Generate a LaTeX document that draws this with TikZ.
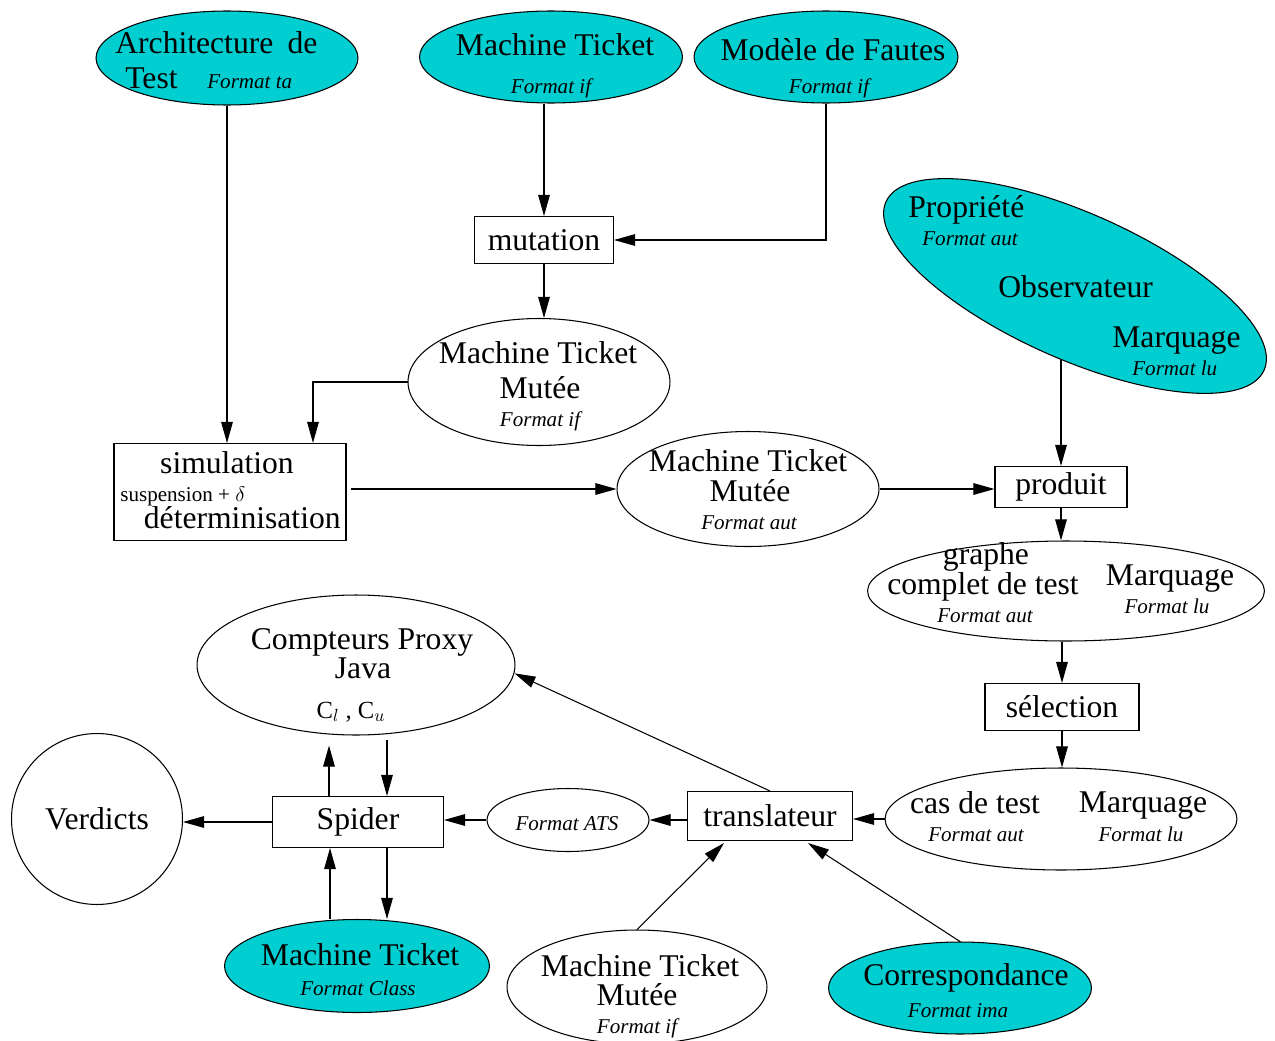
\documentclass[tikz,border=0pt]{standalone}
\usepackage{fontspec}
\setmainfont{Liberation Serif}
\usetikzlibrary{shapes.geometric, arrows.meta, calc, backgrounds}
\definecolor{figcyan}{RGB}{0,206,209}

\begin{document}
\begin{tikzpicture}[
    x=0.02cm, y=-0.02cm,
    ell/.style={ellipse, draw, line width=0.6pt, inner sep=0pt},
    cyanell/.style={ell, fill=figcyan},
    box/.style={rectangle, draw, line width=0.6pt, inner sep=0pt, font=\fontsize{18}{20}\selectfont},
    lbl/.style={inner sep=0pt, anchor=base, font=\fontsize{18}{20}\selectfont},
    fmt/.style={inner sep=0pt, anchor=base, font=\fontsize{12}{14}\selectfont\itshape},
    flow/.style={-{Triangle[length=12pt, width=6.6pt]}, line width=0.6pt}
]
    \useasboundingbox (0,0) rectangle (1275,1041);

    % Shapes
    \node[cyanell, minimum width=5.24cm, minimum height=1.88cm] (archi) at (227,58) {};
    \node[cyanell, minimum width=5.26cm, minimum height=1.84cm] (mtTop) at (551,57) {};
    \node[cyanell, minimum width=5.28cm, minimum height=1.84cm] (modele) at (826,57) {};
    \node[box, minimum width=2.78cm, minimum height=0.94cm] (mutation) at (544,240) {mutation};
    \node[ell, minimum width=5.24cm, minimum height=2.54cm] (mtm1) at (539,382) {};
    \node[box, minimum width=4.64cm, minimum height=1.94cm] (simul) at (230,492) {};
    \node[ell, minimum width=5.24cm, minimum height=2.30cm] (mtm2) at (748,489) {};
    \node[cyanell, rotate=-24, minimum width=8.28cm, minimum height=2.92cm] (obs) at (1075,286) {};
    \node[box, minimum width=2.64cm, minimum height=0.82cm] (produit) at (1061,487) {produit};
    \node[ell, minimum width=7.94cm, minimum height=2.00cm] (graphe) at (1066,591) {};
    \node[box, minimum width=3.08cm, minimum height=0.94cm] (selection) at (1062,707) {sélection};
    \node[ell, minimum width=7.04cm, minimum height=2.04cm] (cas) at (1061,819) {};
    \node[box, minimum width=3.30cm, minimum height=0.98cm] (trans) at (770,816) {translateur};
    \node[ell, minimum width=3.24cm, minimum height=1.26cm] (ats) at (568,820) {};
    \node[box, minimum width=3.42cm, minimum height=1.02cm] (spider) at (358,822) {Spider};
    \node[ell, circle, minimum size=3.42cm, font=\fontsize{18}{20}\selectfont] (verdicts) at (97,819) {Verdicts};
    \node[ell, minimum width=6.36cm, minimum height=2.80cm] (compt) at (356,665) {};
    \node[cyanell, minimum width=5.30cm, minimum height=1.86cm] (mtClass) at (357,966) {};
    \node[ell, minimum width=5.20cm, minimum height=2.28cm] (mtm3) at (637,987) {};
    \node[cyanell, minimum width=5.26cm, minimum height=1.84cm] (corr) at (960,988) {};

    % Texts
    \node[lbl, anchor=base west] (archi-t1) at (115,53) {Architecture\hspace{0.45em}de};
    \node[lbl, anchor=base west] (archi-t2) at (125,88) {Test};
    \node[fmt, anchor=base west] (archi-t3) at (207,88) {Format ta};
    \node[lbl] (mtTop-t1) at (555,55) {Machine Ticket};
    \node[fmt] (mtTop-t2) at (551,93) {Format if};
    \node[lbl] (modele-t1) at (833,60) {Modèle de Fautes};
    \node[fmt] (modele-t2) at (829,93) {Format if};
    \node[lbl] (mtm1-t1) at (538,363) {Machine Ticket};
    \node[lbl] (mtm1-t2) at (540,398) {Mutée};
    \node[fmt] (mtm1-t3) at (540,426) {Format if};
    \node[lbl] (simul-t1) at (227,473) {simulation};
    \node[fmt, font=\fontsize{12}{14}\selectfont, anchor=base west] (simul-t2) at (120,501) {suspension + $\delta$};
    \node[lbl, anchor=base east] (simul-t3) at (341,528) {déterminisation};
    \node[lbl] (mtm2-t1) at (748,471) {Machine Ticket};
    \node[lbl] (mtm2-t2) at (750,501) {Mutée};
    \node[fmt] (mtm2-t3) at (749,529) {Format aut};
    \node[lbl, anchor=base west] (obs-t1) at (908,217) {Propriété};
    \node[fmt, anchor=base west] (obs-t2) at (922,245) {Format aut};
    \node[lbl, anchor=base west] (obs-t3) at (998,297) {Observateur};
    \node[lbl, anchor=base west] (obs-t4) at (1112,347) {Marquage};
    \node[fmt, anchor=base west] (obs-t5) at (1132,375) {Format lu};
    \node[lbl] (graphe-t1) at (986,564) {graphe};
    \node[lbl] (graphe-t2) at (983,594) {complet de test};
    \node[fmt] (graphe-t3) at (985,622) {Format aut};
    \node[lbl] (graphe-t4) at (1170,585) {Marquage};
    \node[fmt] (graphe-t5) at (1167,613) {Format lu};
    \node[lbl] (cas-t1) at (975,813) {cas de test};
    \node[fmt] (cas-t2) at (976,841) {Format aut};
    \node[lbl] (cas-t3) at (1143,812) {Marquage};
    \node[fmt] (cas-t4) at (1141,841) {Format lu};
    \node[fmt] (ats-t1) at (567,830) {Format ATS};
    \node[lbl] (compt-t1) at (362,649) {Compteurs Proxy};
    \node[lbl] (compt-t2) at (363,678) {Java};
    \node[inner sep=0pt, anchor=base, font=\fontsize{14}{16}\selectfont] (compt-t3) at (351,718) {C$_l$ , C$_u$};
    \node[lbl] (mtClass-t1) at (360,965) {Machine Ticket};
    \node[fmt] (mtClass-t2) at (358,995) {Format Class};
    \node[lbl] (mtm3-t1) at (640,976) {Machine Ticket};
    \node[lbl] (mtm3-t2) at (637,1005) {Mutée};
    \node[fmt] (mtm3-t3) at (637,1033) {Format if};
    \node[lbl] (corr-t1) at (966,985) {Correspondance};
    \node[fmt] (corr-t2) at (958,1017) {Format ima};

    % Helper points
    \coordinate (simul-in) at ([xshift=1.66cm]simul.north);
    \coordinate (sp-nl) at ([xshift=-0.58cm]spider.north);
    \coordinate (sp-nr) at ([xshift=0.58cm]spider.north);
    \coordinate (sp-sl) at ([xshift=-0.56cm]spider.south);
    \coordinate (sp-sr) at ([xshift=0.58cm]spider.south);
    \coordinate (trans-l) at ([xshift=0.74cm, yshift=-0.04cm]trans.south west);
    \coordinate (trans-r) at ([xshift=2.42cm, yshift=-0.04cm]trans.south west);

    % Arrows
    \draw[flow] (archi) -- (archi |- simul.north);
    \draw[flow] (mutation.north |- mtTop.south) -- (mutation.north);
    \draw[flow] (modele.south) |- (mutation.east);
    \draw[flow] (mutation.south) -- (mutation.south |- mtm1.north);
    \draw[flow] (mtm1.west) -| (simul-in);
    \draw[flow, shorten <=2.8pt] (simul.east |- mtm2) -- (mtm2.west);
    \draw[flow] (mtm2.east) -- (mtm2.east -| produit.west);
    \begin{pgfonlayer}{background}
        \draw[flow] (obs.center -| produit.north) -- (produit.north);
    \end{pgfonlayer}
    \draw[flow] (produit.south) -- (produit.south |- graphe.north);
    \draw[flow] (selection.north |- graphe.south) -- (selection.north);
    \draw[flow] (selection.south) -- (selection.south |- cas.north);
    \draw[flow] (cas.west) -- (cas.west -| trans.east);
    \draw[flow] (trans.west |- ats) -- (ats.east);
    \draw[flow] (ats.west) -- (ats.west -| spider.east);
    \draw[flow] (spider.west) -- (spider.west -| verdicts.east);
    \draw[flow, shorten >=5.7pt] (sp-nl) -- (sp-nl |- compt.south);
    \draw[flow, shorten <=2.8pt] (sp-nr |- compt.south) -- (sp-nr);
    \draw[flow] (sp-sl |- mtClass.north) -- (sp-sl);
    \draw[flow] (sp-sr) -- (sp-sr |- mtClass.north);
    \draw[flow] (trans.north) -- (compt.-3);
    \draw[flow] (mtm3.north) -- (trans-l);
    \draw[flow] (corr.north) -- (trans-r);
\end{tikzpicture}
\end{document}
